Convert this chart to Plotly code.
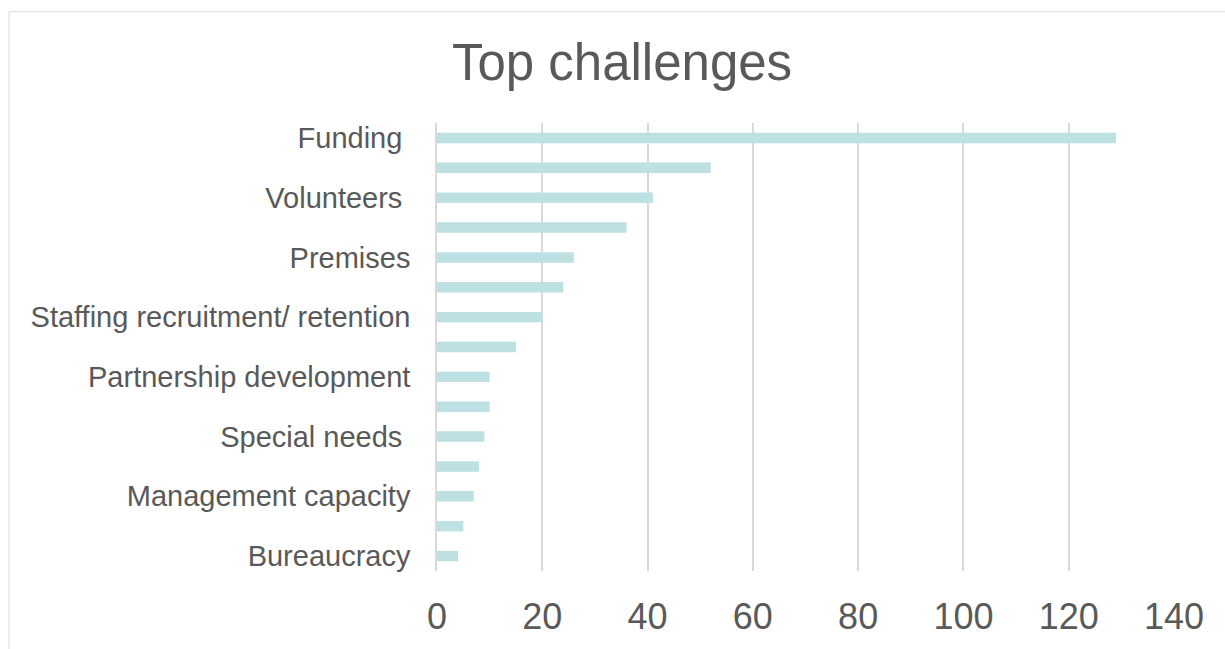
import plotly.graph_objects as go

# Number of responses per challenge, top to bottom
values = [129, 52, 41, 36, 26, 24, 20, 15, 10, 10, 9, 8, 7, 5, 4]
# Category labels shown on every other row (Excel-style label skipping)
label_rows = [0, 2, 4, 6, 8, 10, 12, 14]
labels = [
    "Funding\u00a0",
    "Volunteers\u00a0",
    "Premises",
    "Staffing recruitment/ retention",
    "Partnership development",
    "Special needs\u00a0",
    "Management capacity",
    "Bureaucracy",
]
x_ticks = [0, 20, 40, 60, 80, 100, 120, 140]
title_text = "Top challenges"

W, H = 1225, 649
M_L, M_R, M_T, M_B = 437, 51, 123, 75
plot_w = W - M_L - M_R
plot_h = H - M_T - M_B

TEXT = "#595959"
GRID = "#d9d9d9"
BAR = "#bde0e3"
FONT = "Arial, Liberation Sans, sans-serif"

fig = go.Figure(
    go.Bar(
        x=values,
        y=list(range(len(values))),
        orientation="h",
        width=0.35,
        marker=dict(color=BAR, line=dict(width=0)),
        hoverinfo="x",
    )
)

# chart-area border (left and top edges visible)
bx0 = (9 - M_L) / plot_w
by1 = (H - M_B - 11) / plot_h
fig.add_shape(type="line", xref="paper", yref="paper",
              x0=bx0, x1=bx0, y0=by1, y1=-1, line=dict(color=GRID, width=1))
fig.add_shape(type="line", xref="paper", yref="paper",
              x0=bx0, x1=2, y0=by1, y1=by1, line=dict(color=GRID, width=1))

fig.update_layout(
    width=W,
    height=H,
    margin=dict(l=M_L, r=M_R, t=M_T, b=M_B, pad=0),
    paper_bgcolor="white",
    plot_bgcolor="white",
    showlegend=False,
    font=dict(family=FONT, color=TEXT),
    title=dict(
        text=title_text,
        font=dict(family=FONT, size=51, color=TEXT),
        x=622 / W,
        xanchor="center",
        xref="container",
        y=1 - 62 / H,
        yanchor="middle",
        yref="container",
    ),
    xaxis=dict(
        range=[0, 140],
        tickvals=x_ticks,
        showgrid=True,
        gridcolor=GRID,
        gridwidth=1.5,
        zeroline=False,
        showline=False,
        ticks="",
        tickfont=dict(family=FONT, size=36, color=TEXT),
        ticklabelstandoff=21,
    ),
    yaxis=dict(
        range=[len(values) - 0.5, -0.5],
        tickvals=label_rows,
        ticktext=labels,
        showgrid=False,
        zeroline=False,
        showline=True,
        linecolor=GRID,
        linewidth=1.5,
        ticks="",
        tickfont=dict(family=FONT, size=29, color=TEXT),
        ticklabelstandoff=19,
    ),
)

fig.write_html("out.html")
